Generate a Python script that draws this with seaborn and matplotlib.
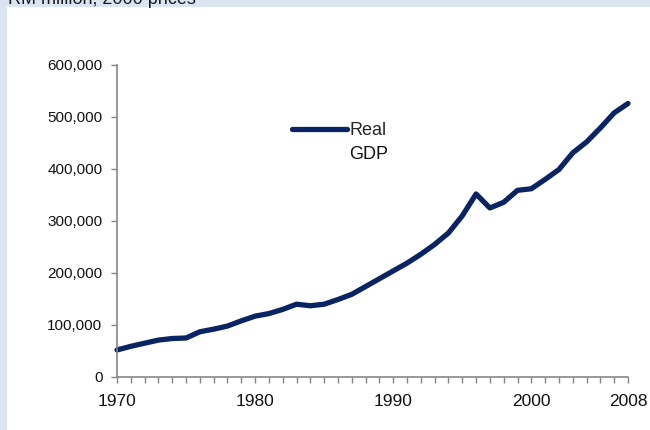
import numpy as np
import pandas as pd
import matplotlib
matplotlib.use("Agg")
import matplotlib.pyplot as plt
import seaborn as sns

# Real GDP, RM million at 2000 prices
idx = list(range(38))
gdp = [52000, 59000, 65000, 71000, 74000, 75000, 87000, 92000, 98000, 108000,
       117000, 122000, 130000, 140000, 137000, 140000, 149000, 159000, 174000, 189000,
       204000, 219000, 236000, 255000, 277000, 310000, 352000, 325000, 336000, 359000,
       362000, 380000, 399000, 431000, 452000, 479000, 508000, 526000]
tick_pos = [0, 10, 20, 30, 37]
tick_text = ["1970", "1980", "1990", "2000", "2008"]
y_ticks = [0, 100000, 200000, 300000, 400000, 500000, 600000]

df = pd.DataFrame({"i": idx, "gdp": gdp})

sns.set_style("white")
plt.rcParams["font.family"] = ["Liberation Sans", "DejaVu Sans"]

fig = plt.figure(figsize=(6.5, 4.3), dpi=100)
fig.patch.set_facecolor("#dbe5f1")
# white panel
fig.patches.append(plt.Rectangle((7 / 650, 0), 1, 1 - 7 / 430, transform=fig.transFigure,
                                 facecolor="white", edgecolor="none", zorder=-10))
fig.text(8 / 650, 1 - 4 / 430, "RM million, 2000 prices", fontsize=13,
         va="baseline", ha="left", color="#1a1a1a")

ax = fig.add_axes([117 / 650, 53 / 430, 511 / 650, 312 / 430])
ax.set_facecolor("none")

sns.lineplot(data=df, x="i", y="gdp", ax=ax, color="#0a2463", linewidth=3.8,
             label="Real", clip_on=False)

ax.set_xlim(0, 37)
ax.set_ylim(0, 600000)
ax.set_xticks(idx)
ax.set_xticklabels([tick_text[tick_pos.index(i)] if i in tick_pos else "" for i in idx])
ax.set_yticks(y_ticks)
ax.set_yticklabels([f"{v:,}" for v in y_ticks])
ax.set_xlabel("")
ax.set_ylabel("")

for s in ["top", "right"]:
    ax.spines[s].set_visible(False)
for s in ["left", "bottom"]:
    ax.spines[s].set_color("#868686")
    ax.spines[s].set_linewidth(1.2)

ax.tick_params(axis="both", direction="out", length=4.5, width=1.0, color="#868686",
               labelcolor="#111111")
ax.tick_params(axis="x", pad=7.5, labelsize=12.5, bottom=True)
ax.tick_params(axis="y", pad=6, labelsize=11, left=True)

ax.legend(loc="center left", bbox_to_anchor=(0.342, 0.789), frameon=False,
          fontsize=13, handlelength=3.05, handletextpad=0.15, borderpad=0,
          borderaxespad=0)
# second line of the legend label
ax.text(0.454, 0.698, "GDP", transform=ax.transAxes, fontsize=13,
        va="baseline", ha="left", color="#111111")

fig.savefig("out.png", dpi=100)
